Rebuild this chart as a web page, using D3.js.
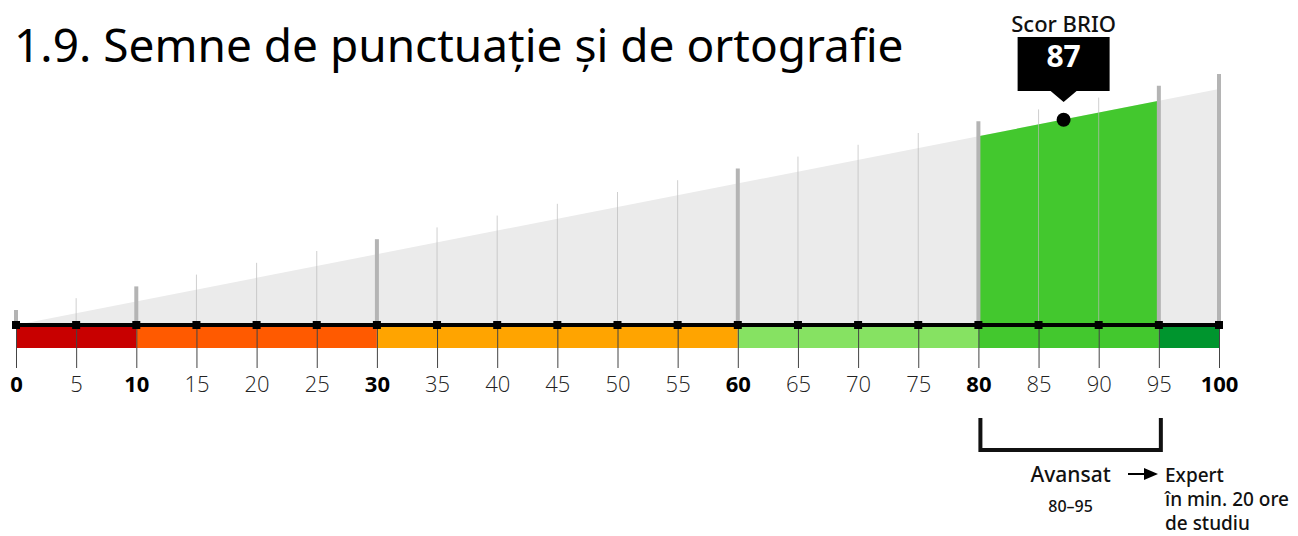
<!DOCTYPE html>
<html>
<head>
<meta charset="utf-8">
<script src="https://cdn.jsdelivr.net/npm/d3@7"></script>
<style>
  body { margin: 0; background: #fff; }
  svg { display: block; font-family: "Noto Sans", "Open Sans", sans-serif; }
</style>
</head>
<body>
<div id="chart"></div>
<script>
// Data
const title = "1.9. Semne de punctuație și de ortografie";
const tickValues = [0, 5, 10, 15, 20, 25, 30, 35, 40, 45, 50, 55, 60, 65, 70, 75, 80, 85, 90, 95, 100];
const boldTicks = [0, 10, 30, 60, 80, 100];
const bandEdges = [0, 10, 30, 60, 80, 95, 100];
const bandColors = ["#c80000", "#ff5a00", "#ffa400", "#86e262", "#43c82e", "#00952e"];
const score = 87;
const scoreLabel = "Scor BRIO";
const levelRange = [80, 95];
const levelName = "Avansat";
const levelText = "80–95";
const nextLevel = ["Expert", "în min. 20 ore", "de studiu"];

const W = 1298, H = 536;
const svg = d3.select("#chart").append("svg")
    .attr("width", W)
    .attr("height", H);

// Scales
const x = d3.scaleLinear().domain([0, 100]).range([16, 1219]);
const axisY = 325;
const y = d3.scaleLinear().domain([0, 100]).range([axisY, 89]);
const over = 15; // grid lines poke out above the wedge

// Title
svg.append("text")
    .attr("x", 14).attr("y", 62)
    .attr("font-size", 46)
    .attr("fill", "#000")
    .text(title);

// Grey wedge
const area = d3.area()
    .x(d => x(d))
    .y0(axisY)
    .y1(d => y(d));
svg.append("path")
    .datum([0, 100])
    .attr("d", area)
    .attr("fill", "#ebebeb");

// Green wedge for current level
svg.append("path")
    .datum(levelRange)
    .attr("d", area)
    .attr("fill", bandColors[4]);

// Thin grid lines above the axis
svg.selectAll(".grid")
    .data(tickValues.filter(d => !bandEdges.includes(d)))
    .enter().append("line")
    .attr("class", "grid")
    .attr("x1", d => x(d)).attr("x2", d => x(d))
    .attr("y1", axisY).attr("y2", d => y(d) - over)
    .attr("stroke", "#bbb")
    .attr("stroke-opacity", 0.7)
    .attr("stroke-width", 1);

// Thick grey lines at band edges
svg.selectAll(".edge")
    .data(bandEdges)
    .enter().append("line")
    .attr("class", "edge")
    .attr("x1", d => x(d)).attr("x2", d => x(d))
    .attr("y1", axisY).attr("y2", d => y(d) - over)
    .attr("stroke", "#b4b4b4")
    .attr("stroke-width", 4);

// Colour bands
svg.selectAll(".band")
    .data(d3.pairs(bandEdges))
    .enter().append("rect")
    .attr("class", "band")
    .attr("x", d => x(d[0]))
    .attr("width", d => x(d[1]) - x(d[0]))
    .attr("y", axisY)
    .attr("height", 23)
    .attr("fill", (d, i) => bandColors[i]);

// Bottom axis with ticks and labels
const axis = d3.axisBottom(x)
    .tickValues(tickValues)
    .tickSize(43)
    .tickPadding(8)
    .tickFormat(d3.format("d"));
const gAxis = svg.append("g")
    .attr("transform", `translate(0,${axisY})`)
    .call(axis);
gAxis.select(".domain").remove();
gAxis.selectAll(".tick line")
    .attr("stroke", "#444")
    .attr("stroke-width", 1);
gAxis.selectAll(".tick text")
    .attr("font-family", "'Open Sans', 'Noto Sans', sans-serif")
    .attr("font-size", 22)
    .attr("font-weight", d => boldTicks.includes(d) ? 700 : 300)
    .attr("fill", d => boldTicks.includes(d) ? "#000" : "#222");

// Black axis line and square markers
svg.append("line")
    .attr("x1", x(0)).attr("x2", x(100))
    .attr("y1", axisY).attr("y2", axisY)
    .attr("stroke", "#000")
    .attr("stroke-width", 4);
svg.selectAll(".marker")
    .data(tickValues)
    .enter().append("rect")
    .attr("class", "marker")
    .attr("x", d => x(d) - 4)
    .attr("y", axisY - 4)
    .attr("width", 8).attr("height", 8)
    .attr("fill", "#000");

// Score dot and callout
const sx = x(score) + 1, sy = y(score);
svg.append("circle")
    .attr("cx", sx).attr("cy", sy)
    .attr("r", 7)
    .attr("fill", "#000");

const boxW = 92, boxTop = 37, boxBottom = 91, tip = 102;
svg.append("path")
    .attr("d", `M${sx - boxW / 2},${boxTop} H${sx + boxW / 2} V${boxBottom} H${sx + 13} L${sx},${tip} L${sx - 13},${boxBottom} H${sx - boxW / 2} Z`)
    .attr("fill", "#000");
svg.append("text")
    .attr("x", sx).attr("y", 67)
    .attr("text-anchor", "middle")
    .attr("font-size", 30)
    .attr("font-weight", 700)
    .attr("fill", "#fff")
    .text(score);
svg.append("text")
    .attr("x", sx).attr("y", 32)
    .attr("text-anchor", "middle")
    .attr("font-size", 22)
    .attr("font-weight", 500)
    .attr("fill", "#111")
    .text(scoreLabel);

// Bracket under current level
const bx0 = x(levelRange[0]) + 2, bx1 = x(levelRange[1]) + 2;
svg.append("path")
    .attr("d", `M${bx0},418 V450 H${bx1} V418`)
    .attr("fill", "none")
    .attr("stroke", "#111")
    .attr("stroke-width", 4);

const mid = (bx0 + bx1) / 2;
svg.append("text")
    .attr("x", mid).attr("y", 482)
    .attr("text-anchor", "middle")
    .attr("font-size", 21)
    .attr("font-weight", 500)
    .attr("fill", "#111")
    .text(levelName);
svg.append("text")
    .attr("x", mid).attr("y", 512)
    .attr("text-anchor", "middle")
    .attr("font-size", 16)
    .attr("font-weight", 500)
    .attr("fill", "#111")
    .text(levelText);

// Arrow to next level
svg.append("line")
    .attr("x1", 1128).attr("x2", 1146)
    .attr("y1", 474).attr("y2", 474)
    .attr("stroke", "#000")
    .attr("stroke-width", 2);
svg.append("path")
    .attr("d", "M1144,468 L1158,474 L1144,480 Z")
    .attr("fill", "#000");

svg.append("text")
    .attr("x", 1165).attr("y", 482)
    .attr("font-size", 19)
    .attr("font-weight", 500)
    .attr("fill", "#111")
    .selectAll("tspan")
    .data(nextLevel)
    .enter().append("tspan")
    .attr("x", 1165)
    .attr("dy", (d, i) => i === 0 ? 0 : 24)
    .text(d => d);
</script>
</body>
</html>
